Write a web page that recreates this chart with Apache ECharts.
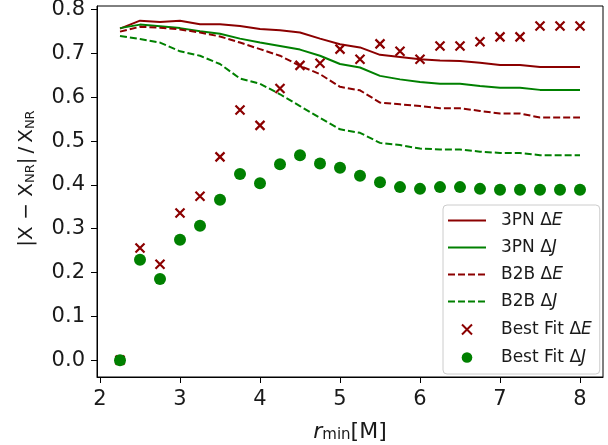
<!DOCTYPE html>
<html>
<head>
<meta charset="utf-8">
<script src="https://cdn.jsdelivr.net/npm/echarts@6/dist/echarts.min.js"></script>
<style>
html,body{margin:0;padding:0;background:#fff;}
#chart{width:608px;height:445px;}
</style>
</head>
<body>
<div id="chart"></div>
<script>
// r_min values
var rmin = [2.25, 2.5, 2.75, 3.0, 3.25, 3.5, 3.75, 4.0, 4.25, 4.5, 4.75, 5.0, 5.25, 5.5, 5.75, 6.0, 6.25, 6.5, 6.75, 7.0, 7.25, 7.5, 7.75, 8.0];
var pn3E = [0.757, 0.775, 0.772, 0.775, 0.767, 0.767, 0.763, 0.756, 0.753, 0.748, 0.734, 0.721, 0.714, 0.697, 0.692, 0.687, 0.684, 0.683, 0.679, 0.674, 0.674, 0.669, 0.669, 0.669];
var pn3J = [0.758, 0.766, 0.762, 0.758, 0.751, 0.745, 0.734, 0.725, 0.717, 0.709, 0.695, 0.676, 0.668, 0.649, 0.641, 0.635, 0.631, 0.631, 0.626, 0.622, 0.622, 0.617, 0.617, 0.617];
var b2bE = [0.750, 0.761, 0.759, 0.755, 0.748, 0.739, 0.725, 0.710, 0.695, 0.672, 0.653, 0.624, 0.616, 0.588, 0.584, 0.580, 0.575, 0.575, 0.569, 0.563, 0.563, 0.554, 0.554, 0.554];
var b2bJ = [0.740, 0.733, 0.725, 0.705, 0.695, 0.676, 0.643, 0.631, 0.607, 0.580, 0.553, 0.527, 0.519, 0.496, 0.491, 0.483, 0.481, 0.481, 0.476, 0.473, 0.473, 0.468, 0.468, 0.468];
var fitE = [0.0, 0.256, 0.219, 0.336, 0.374, 0.464, 0.571, 0.536, 0.620, 0.673, 0.678, 0.710, 0.687, 0.722, 0.705, 0.687, 0.717, 0.717, 0.727, 0.738, 0.738, 0.763, 0.763, 0.763];
var fitJ = [0.0, 0.229, 0.185, 0.275, 0.307, 0.366, 0.425, 0.404, 0.447, 0.468, 0.449, 0.439, 0.421, 0.406, 0.395, 0.391, 0.395, 0.395, 0.391, 0.389, 0.389, 0.389, 0.389, 0.389];
var xTicks = [2, 3, 4, 5, 6, 7, 8];
var yTicks = [0.0, 0.1, 0.2, 0.3, 0.4, 0.5, 0.6, 0.7, 0.8];
var seriesNames = ['3PN ΔE', '3PN ΔJ', 'B2B ΔE', 'B2B ΔJ', 'Best Fit ΔE', 'Best Fit ΔJ'];

function pairs(ys) { return rmin.map(function (x, i) { return [x, ys[i]]; }); }

var RED = '#8b0000', GREEN = '#008000';
var FONT = 'DejaVu Sans';
var TXT = '#1a1a1a';
var crossPath = 'path://M0,0L10,10M10,0L0,10';
var crossLegend = 'path://M-3.5,-3.5M13.5,13.5M0,0L10,10M10,0L0,10';
var circleLegend = 'path://M-3,-3M13,13M10,5A5,5,0,1,1,0,5A5,5,0,1,1,10,5Z';

var chart = echarts.init(document.getElementById('chart'), null, {renderer: 'canvas'});
chart.setOption({
  animation: false,
  backgroundColor: '#fff',
  textStyle: {fontFamily: FONT},
  grid: {left: 97, right: 5, top: 6, bottom: 68, containLabel: false, outerBoundsMode: 'none',
    show: true, borderColor: '#000', borderWidth: 1, backgroundColor: 'transparent'},
  xAxis: {
    type: 'value', min: 1.9625, max: 8.2875,
    splitLine: {show: false},
    axisLine: {onZero: false, lineStyle: {color: '#000', width: 1}},
    axisTick: {show: true, length: 6, customValues: xTicks, lineStyle: {color: '#000'}},
    axisLabel: {customValues: xTicks, fontSize: 21, color: TXT, margin: 12, fontFamily: FONT},
    name: '{it|r}{sub|min}{n|[M]}', nameLocation: 'middle', nameGap: 42,
    nameTextStyle: {
      rich: {
        it: {fontSize: 22, fontStyle: 'italic', fontFamily: FONT, color: TXT, verticalAlign: 'bottom', lineHeight: 24},
        sub: {fontSize: 15, fontFamily: FONT, color: TXT, verticalAlign: 'bottom', lineHeight: 18},
        n: {fontSize: 22, fontFamily: FONT, color: TXT, verticalAlign: 'bottom', lineHeight: 24}
      }
    }
  },
  yAxis: {
    type: 'value', min: -0.0385, max: 0.8085,
    splitLine: {show: false},
    axisLine: {onZero: false, lineStyle: {color: '#000', width: 1}},
    axisTick: {show: true, length: 6, customValues: yTicks, lineStyle: {color: '#000'}},
    axisLabel: {customValues: yTicks, fontSize: 21, color: TXT, margin: 12, fontFamily: FONT,
      formatter: function (v) { return v.toFixed(1); }},
    name: '{n||X − X}{sub|NR}{n||\u2009/\u2009X}{sub|NR}', nameLocation: 'middle', nameGap: 60, nameRotate: 90,
    nameTextStyle: {
      padding: [0, 0, 0, 26],
      rich: {
        n: {fontSize: 20, fontFamily: FONT, color: TXT, verticalAlign: 'bottom', lineHeight: 22},
        sub: {fontSize: 13, fontFamily: FONT, color: TXT, verticalAlign: 'bottom', lineHeight: 16}
      }
    }
  },
  legend: {
    orient: 'vertical', left: 443, top: 205,
    padding: [7, 8, 8, 4],
    itemWidth: 38, itemHeight: 17, itemGap: 10,
    backgroundColor: 'rgba(255,255,255,0.85)', borderColor: '#cccccc', borderWidth: 1, borderRadius: 4,
    formatter: function (name) { return name.replace(/Δ([EJ])/, 'Δ{i|$1}'); },
    textStyle: {fontSize: 17, fontFamily: FONT, color: TXT, padding: [0, 0, 0, 10], lineHeight: 17,
      rich: {i: {fontSize: 17, fontFamily: FONT, fontStyle: 'italic', color: TXT, lineHeight: 17}}},
    data: [
      {name: seriesNames[0], itemStyle: {opacity: 0}},
      {name: seriesNames[1], itemStyle: {opacity: 0}},
      {name: seriesNames[2], itemStyle: {opacity: 0}},
      {name: seriesNames[3], itemStyle: {opacity: 0}},
      {name: seriesNames[4], icon: crossLegend},
      {name: seriesNames[5], icon: circleLegend}
    ]
  },
  series: [
    {name: seriesNames[0], type: 'line', data: pairs(pn3E), symbol: 'none', color: RED, lineStyle: {color: RED, width: 2}, z: 2},
    {name: seriesNames[1], type: 'line', data: pairs(pn3J), symbol: 'none', color: GREEN, lineStyle: {color: GREEN, width: 2}, z: 2},
    {name: seriesNames[2], type: 'line', data: pairs(b2bE), symbol: 'none', color: RED, lineStyle: {color: RED, width: 2, type: [7, 3]}, z: 2},
    {name: seriesNames[3], type: 'line', data: pairs(b2bJ), symbol: 'none', color: GREEN, lineStyle: {color: GREEN, width: 2, type: [7, 3]}, z: 2},
    {name: seriesNames[4], type: 'scatter', data: pairs(fitE), symbol: crossPath, symbolSize: 9,
      itemStyle: {color: RED, borderColor: RED, borderWidth: 2.2, opacity: 1}, z: 3},
    {name: seriesNames[5], type: 'scatter', data: pairs(fitJ), symbol: 'circle', symbolSize: 12,
      itemStyle: {color: GREEN, opacity: 1}, z: 4}
  ]
});
</script>
</body>
</html>
